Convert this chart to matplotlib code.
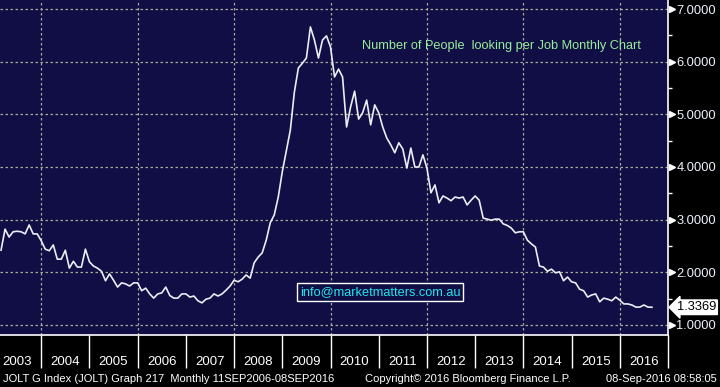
import pandas as pd
import matplotlib
matplotlib.use("Agg")
import matplotlib.pyplot as plt
import matplotlib.transforms as mtrans

# unemployed people per job opening, monthly, starting Feb 2003
vals = [
    2.42, 2.82, 2.67, 2.77, 2.78, 2.77, 2.73, 2.90, 2.73, 2.73,
    2.60, 2.44, 2.41, 2.52, 2.25, 2.25, 2.42, 2.08, 2.21, 2.10,
    2.10, 2.44, 2.20, 2.12, 2.08, 2.02, 1.84, 1.97, 1.85, 1.72,
    1.80, 1.78, 1.74, 1.80, 1.80, 1.65, 1.70, 1.59, 1.51, 1.59,
    1.61, 1.72, 1.56, 1.51, 1.51, 1.59, 1.59, 1.53, 1.55, 1.46,
    1.42, 1.49, 1.51, 1.59, 1.55, 1.59, 1.66, 1.74, 1.85, 1.82,
    1.87, 1.95, 1.89, 2.18, 2.29, 2.37, 2.61, 2.94, 3.09, 3.43,
    3.91, 4.30, 4.70, 5.42, 5.88, 5.97, 6.07, 6.66, 6.41, 6.07,
    6.41, 6.49, 6.28, 5.71, 5.86, 5.71, 4.76, 5.14, 5.44, 4.91,
    5.03, 5.27, 4.80, 5.18, 5.03, 4.76, 4.55, 4.42, 4.27, 4.46,
    4.34, 3.98, 4.36, 4.00, 4.00, 4.23, 3.98, 3.51, 3.66, 3.32,
    3.45, 3.41, 3.36, 3.43, 3.41, 3.43, 3.28, 3.37, 3.45, 3.37,
    3.03, 3.01, 2.99, 3.01, 3.01, 2.92, 2.89, 2.84, 2.75, 2.77,
    2.77, 2.61, 2.54, 2.48, 2.12, 2.10, 2.02, 2.06, 1.99, 2.01,
    1.84, 1.91, 1.82, 1.80, 1.68, 1.65, 1.53, 1.57, 1.59, 1.44,
    1.51, 1.49, 1.46, 1.53, 1.47, 1.40, 1.40, 1.38, 1.34, 1.34,
    1.38, 1.34, 1.3369,
]
months = pd.period_range("2003-02", periods=len(vals), freq="M")
t = [p.year + p.month / 12 for p in months]  # month-end as decimal year

years = list(range(2003, 2017))
grid_years = [2004, 2006, 2008, 2010, 2012, 2014, 2016]
yticks = [1, 2, 3, 4, 5, 6, 7]
yminor = [1.5, 2.5, 3.5, 4.5, 5.5, 6.5]

title = "Number of People  looking per Job Monthly Chart"
footer_left = "JOLT G Index (JOLT) Graph 217  Monthly 11SEP2006-08SEP2016"
footer_mid = "Copyright\u00a9 2016 Bloomberg Finance L.P."
footer_right = "08-Sep-2016 08:58:05"

W, H = 720, 387
navy = "#100e44"
gridc = "#a9a69a"
fam = ["Liberation Sans", "DejaVu Sans"]

fig = plt.figure(figsize=(W / 100, H / 100), dpi=100, facecolor="black")
ax = fig.add_axes([0, 1 - 335 / H, 668 / W, 335 / H])
ax.set_facecolor(navy)

for y in yticks:
    ax.axhline(y, color=gridc, lw=0.9, ls=(0, (2, 2)), zorder=1)
for g in grid_years:
    ax.axvline(g, color=gridc, lw=0.9, ls=(0, (2, 2)), zorder=1)

ax.plot(t, vals, color="#ececf4", lw=1.2, zorder=3)

for s in ["left", "top"]:
    ax.spines[s].set_visible(False)
for s in ["right", "bottom"]:
    ax.spines[s].set_color("white")
    ax.spines[s].set_linewidth(1.2)

# right axis
ax.yaxis.tick_right()
ax.set_yticks(yticks)
ax.set_yticklabels([f"{v:.4f}" for v in yticks])
ax.set_yticks(yminor, minor=True)
ax.tick_params(axis="y", which="major", colors="white", length=0, pad=6,
               labelsize=9.3, labelcolor="#eef2ff")
ax.tick_params(axis="y", which="minor", colors="white", length=3, width=1)
for lab in ax.get_yticklabels():
    lab.set_family(fam)

# bottom axis: year separators + centred labels
ax.set_xticks(years + [2017])
ax.set_xticklabels([])
ax.set_xticks([y + 0.5 for y in years], minor=True)
ax.set_xticklabels([str(y) for y in years], minor=True)
ax.tick_params(axis="x", which="major", colors="white", length=24, width=1,
               direction="out")
ax.tick_params(axis="x", which="minor", length=0, pad=15, labelsize=9.5,
               labelcolor="white")
for lab in ax.get_xticklabels(minor=True):
    lab.set_family(fam)

# limits after ticks (set_ticks may widen the view)
ax.set_xlim(2003.145, 2017.0)
ax.set_ylim(0.81, 7.171)

tr = mtrans.blended_transform_factory(ax.transAxes, ax.transData)
ax.plot([1.006] * len(yticks), yticks, ls="none", marker=">", ms=5,
        color="white", transform=tr, clip_on=False, zorder=5)

# last value label
last = vals[-1]
ax.text(1.013, last, f"{last:.4f}", transform=tr, ha="left", va="center",
        fontsize=9.3, color="black", family=fam,
        bbox=dict(boxstyle="larrow,pad=0.1", fc="white", ec="white"),
        zorder=6, clip_on=False)

# annotations
fig.text(362 / W, 1 - 46 / H, title, ha="left", va="center", fontsize=9.2,
         color="#98ee98", family=fam)
fig.text(380 / W, 1 - 292 / H, "info@marketmatters.com.au", ha="center",
         va="center", fontsize=9.2, color="#22e6ee", family=fam,
         bbox=dict(boxstyle="square,pad=0.2", fc=navy, ec="white", lw=1))

fig.text(3 / W, 1 - 379 / H, footer_left, ha="left", va="center",
         fontsize=8, color="white", family=fam)
fig.text(468 / W, 1 - 379 / H, footer_mid, ha="center", va="center",
         fontsize=8, color="white", family=fam)
fig.text(717 / W, 1 - 379 / H, footer_right, ha="right", va="center",
         fontsize=8, color="white", family=fam)

fig.savefig("out.png", dpi=100, facecolor="black")
